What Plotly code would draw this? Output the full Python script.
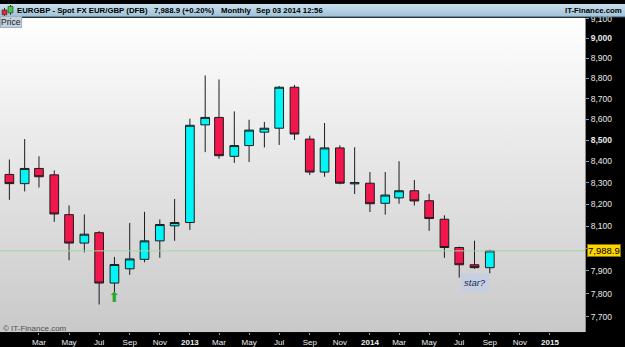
import base64, math
import plotly.graph_objects as go

# ---------------- data ----------------
months = ["2012-01-01","2012-02-01","2012-03-01","2012-04-01","2012-05-01","2012-06-01",
          "2012-07-01","2012-08-01","2012-09-01","2012-10-01","2012-11-01","2012-12-01",
          "2013-01-01","2013-02-01","2013-03-01","2013-04-01","2013-05-01","2013-06-01",
          "2013-07-01","2013-08-01","2013-09-01","2013-10-01","2013-11-01","2013-12-01",
          "2014-01-01","2014-02-01","2014-03-01","2014-04-01","2014-05-01","2014-06-01",
          "2014-07-01","2014-08-01","2014-09-01"]
opens  = [8339,8296,8367,8337,8153,8024,8071,7846,7909,7951,8034,8102,
          8117,8574,8610,8424,8475,8539,8558,8757,8506,8350,8464,8295,
          8298,8205,8230,8263,8217,8132,8004,7927,7914]
highs  = [8409,8506,8424,8358,8195,8154,8078,7962,8115,8166,8131,8225,
          8604,8815,8795,8639,8599,8588,8763,8768,8522,8583,8476,8467,
          8350,8350,8401,8313,8248,8150,8008,8035,7994]
lows   = [8221,8260,8278,8120,7947,7982,7752,7805,7882,7938,7958,8034,
          8083,8444,8413,8393,8397,8466,8478,8502,8336,8328,8293,8248,
          8165,8153,8203,8195,8079,7958,7870,7909,7889]
closes = [8296,8367,8328,8156,8024,8064,7846,7928,7953,8034,8108,8117,
          8572,8610,8427,8475,8549,8558,8757,8530,8350,8464,8298,8301,
          8203,8243,8263,8216,8135,8004,7927,7914,7988.9]

last_price = 7988.9
last_change = "+0.20%"

signal_months = ["2012-08-01"]
signal_levels = [7777]

note_month = "2014-08-01"
note_level = 7850
note_text = "star?"

y_ticks = [7700,7800,7900,8000,8100,8200,8300,8400,8500,8600,8700,8800,8900,9000,9100]
y_bold = [8500, 9000]
y_hidden = [8000]   # covered by the last-price box in the reference
x_tickvals = ["2012-03-01","2012-05-01","2012-07-01","2012-09-01","2012-11-01","2013-01-01",
              "2013-03-01","2013-05-01","2013-07-01","2013-09-01","2013-11-01","2014-01-01",
              "2014-03-01","2014-05-01","2014-07-01","2014-09-01","2014-11-01","2015-01-01"]
x_ticktext = ["Mar","May","Jul","Sep","Nov","<b>2013</b>","Mar","May","Jul","Sep","Nov","<b>2014</b>",
              "Mar","May","Jul","Sep","Nov","<b>2015</b>"]

x_range = ["2011-12-13", "2015-03-13"]
y_range_log = [3.88267, 3.95928]

# ---------------- layout geometry ----------------
W, H = 625, 347
plot_right = 585 / W
plot_top = (H - 14) / H
plot_bot = (H - 334) / H
hdr_h = 13

def svg_grad(top, bottom):
    svg = ('<svg xmlns="http://www.w3.org/2000/svg" width="10" height="100" viewBox="0 0 10 100" '
           'preserveAspectRatio="none"><defs><linearGradient id="g" x1="0" y1="0" x2="0" y2="1">'
           f'<stop offset="0" stop-color="{top}"/><stop offset="1" stop-color="{bottom}"/>'
           '</linearGradient></defs><rect width="10" height="100" fill="url(#g)"/></svg>')
    return "data:image/svg+xml;base64," + base64.b64encode(svg.encode()).decode()

fig = go.Figure()

fig.add_trace(go.Scatter(
    x=x_range, y=[last_price, last_price], mode="lines",
    line=dict(color="#a6d6a6", width=1), hoverinfo="skip", showlegend=False))

fig.add_trace(go.Candlestick(
    x=months, open=opens, high=highs, low=lows, close=closes,
    increasing=dict(fillcolor="#00f6f6", line=dict(color="#1c1c1c", width=1)),
    decreasing=dict(fillcolor="#f2164c", line=dict(color="#1c1c1c", width=1)),
    whiskerwidth=0, showlegend=False, hoverinfo="skip"))

fig.add_trace(go.Scatter(
    x=signal_months, y=signal_levels, mode="text", text=["⬆"] * len(signal_months),
    textposition="middle center",
    textfont=dict(family="DejaVu Sans", size=14, color="#2aa82a"),
    hoverinfo="skip", showlegend=False))

annotations = []
hy = 1 - 6.5 / H
hdr_font = dict(family="Arial", size=7.8, color="#000")
for txt, xpx in [("<b>EURGBP - Spot FX EUR/GBP (DFB)</b>", 16),
                 (f"<b>{last_price:,.1f} ({last_change})</b>", 153),
                 ("<b>Monthly</b>", 220),
                 ("<b>Sep 03 2014 12:56</b>", 255)]:
    annotations.append(dict(xref="paper", yref="paper", x=xpx / W, y=hy, text=txt,
                            showarrow=False, xanchor="left", yanchor="middle",
                            font=hdr_font, borderpad=0))
annotations.append(dict(xref="paper", yref="paper", x=623 / W, y=hy, text="<b>IT-Finance.com</b>",
                        showarrow=False, xanchor="right", yanchor="middle", font=hdr_font, borderpad=0))
annotations.append(dict(xref="paper", yref="paper", x=0, y=1 - 18.5 / H, text="Price",
                        showarrow=False, xanchor="left", yanchor="middle",
                        font=dict(family="Arial", size=8.5, color="#222"),
                        bgcolor="#c3d1de", bordercolor="#9fb2c4", borderwidth=1, borderpad=0))
annotations.append(dict(xref="paper", yref="paper", x=1 / W, y=(H - 330) / H,
                        text="© IT-Finance.com", showarrow=False, xanchor="left", yanchor="middle",
                        font=dict(family="Arial", size=8, color="#505050")))
annotations.append(dict(xref="paper", yref="y", x=plot_right + 2 / W, y=math.log10(last_price),
                        text=f"{last_price:,.1f}", showarrow=False, xanchor="left", yanchor="middle",
                        font=dict(family="Arial", size=9.5, color="#000"),
                        bgcolor="#ffd500", bordercolor="#8a7400", borderwidth=1, borderpad=0))
annotations.append(dict(xref="x", yref="y", x=note_month, y=math.log10(note_level),
                        text=f"<i>{note_text}</i>", showarrow=False, xanchor="center", yanchor="middle",
                        font=dict(family="Arial", size=9.5, color="#1c2a52"),
                        bgcolor="#c6cfe2", borderpad=3))

images = [
    dict(source=svg_grad("#ffffff", "#c9c9c9"), xref="paper", yref="paper",
         x=0, y=plot_top, sizex=plot_right, sizey=plot_top - plot_bot,
         sizing="stretch", xanchor="left", yanchor="top", layer="below"),
    dict(source=svg_grad("#c9e0ee", "#9fc1d6"), xref="paper", yref="paper",
         x=0, y=1, sizex=1, sizey=hdr_h / H,
         sizing="stretch", xanchor="left", yanchor="top", layer="below"),
]

shapes = [
    dict(type="line", xref="paper", yref="paper", x0=0, x1=1, y0=1 - hdr_h / H, y1=1 - hdr_h / H,
         line=dict(color="#6f95ad", width=1)),
    # header icon
    dict(type="line", xref="paper", yref="paper", x0=4.5 / W, x1=4.5 / W, y0=1 - 12 / H, y1=1 - 4 / H,
         line=dict(color="#333", width=1)),
    dict(type="rect", xref="paper", yref="paper", x0=2 / W, x1=7 / W, y0=1 - 11 / H, y1=1 - 6 / H,
         fillcolor="#e8203c", line=dict(color="#333", width=0.6)),
    dict(type="line", xref="paper", yref="paper", x0=10.5 / W, x1=10.5 / W, y0=1 - 11 / H, y1=1 - 1 / H,
         line=dict(color="#333", width=1)),
    dict(type="rect", xref="paper", yref="paper", x0=8 / W, x1=13 / W, y0=1 - 9 / H, y1=1 - 2.5 / H,
         fillcolor="#3ccc3c", line=dict(color="#333", width=0.6)),
]

y_text = []
for v in y_ticks:
    if v in y_hidden:
        y_text.append("")
    elif v in y_bold:
        y_text.append(f"<b>{v:,}</b>")
    else:
        y_text.append(f"{v:,}")

fig.update_layout(
    width=W, height=H, margin=dict(l=0, r=0, t=0, b=0),
    paper_bgcolor="#000000", plot_bgcolor="rgba(0,0,0,0)",
    boxgap=0.1, showlegend=False,
    annotations=annotations, images=images, shapes=shapes,
    xaxis=dict(domain=[0, plot_right], type="date", range=x_range, rangeslider=dict(visible=False),
               tickvals=x_tickvals, ticktext=x_ticktext, ticks="outside", ticklen=2,
               tickcolor="#9a9a9a", showgrid=False, zeroline=False, showline=False,
               tickfont=dict(family="Arial", size=8, color="#f0f0f0"), anchor="y"),
    yaxis=dict(domain=[plot_bot, plot_top], type="log", range=y_range_log, side="right",
               tickvals=y_ticks, ticktext=y_text, ticks="outside", ticklen=3,
               tickcolor="#9a9a9a", showgrid=False, zeroline=False, showline=True,
               linecolor="#8a8a8a", linewidth=1,
               tickfont=dict(family="Arial", size=8.5, color="#e8e8e8"), anchor="x"),
)

fig.write_html("out.html")
